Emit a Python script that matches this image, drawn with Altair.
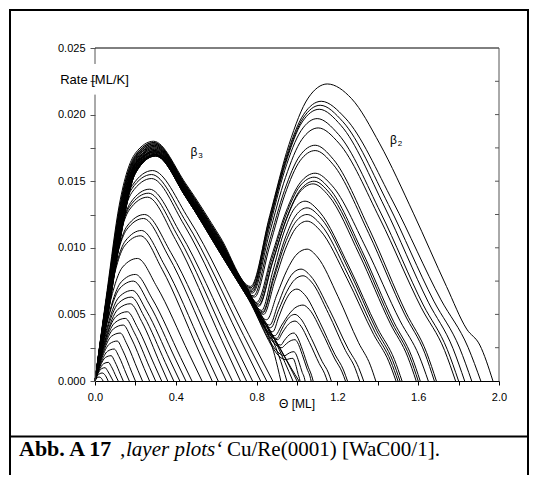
import altair as alt
import pandas as pd

# ---- tick positions / labels -------------------------------------------
x_ticks = [0.0, 0.2, 0.4, 0.6, 0.8, 1.0, 1.2, 1.4, 1.6, 1.8, 2.0]
y_ticks = [0.0, 0.0025, 0.005, 0.0075, 0.01, 0.0125, 0.015, 0.0175, 0.02, 0.0225, 0.025]
right_ticks = [0.0025, 0.005, 0.0075, 0.01, 0.0125, 0.015, 0.0175, 0.02, 0.0225]

# ---- curves: (coverage [ML], rate [ML/K]) --------------------------------
beta3_low = [
    [(0, 0), (0.008, 0.0002), (0.02, 0.0003), (0.032, 0.0002), (0.04, 0)],
    [(0, 0), (0.012, 0.0004), (0.035, 0.0006), (0.052, 0.0004), (0.065, 0)],
    [(0, 0), (0.015, 0.00056), (0.033, 0.00093), (0.05, 0.001), (0.062, 0.00077), (0.082, 0.00022), (0.09, 0)],
    [(0, 0), (0.02, 0.00078), (0.043, 0.0013), (0.066, 0.0014), (0.081, 0.00108), (0.105, 0.00031), (0.115, 0)],
    [(0, 0), (0.024, 0.00106), (0.052, 0.00177), (0.08, 0.0019), (0.098, 0.00146), (0.128, 0.00042), (0.14, 0)],
    [(0, 0), (0.029, 0.00134), (0.062, 0.00223), (0.095, 0.0024), (0.118, 0.00185), (0.155, 0.00053), (0.17, 0)],
    [(0, 0), (0.033, 0.00168), (0.072, 0.00279), (0.11, 0.003), (0.137, 0.00231), (0.182, 0.00066), (0.2, 0)],
    [(0, 0), (0.038, 0.00202), (0.081, 0.00335), (0.125, 0.0036), (0.158, 0.00277), (0.213, 0.00079), (0.235, 0)],
    [(0, 0), (0.042, 0.00235), (0.091, 0.00391), (0.14, 0.0042), (0.179, 0.00323), (0.244, 0.00092), (0.27, 0)],
    [(0, 0), (0.045, 0.00263), (0.098, 0.00437), (0.15, 0.0047), (0.195, 0.00362), (0.27, 0.00103), (0.3, 0)],
    [(0, 0), (0.048, 0.00291), (0.104, 0.00484), (0.16, 0.0052), (0.211, 0.004), (0.296, 0.00114), (0.33, 0)],
    [(0, 0), (0.053, 0.00325), (0.114, 0.00539), (0.175, 0.0058), (0.231, 0.00447), (0.323, 0.00128), (0.36, 0)],
    [(0, 0), (0.054, 0.00353), (0.117, 0.00586), (0.18, 0.0063), (0.243, 0.00485), (0.348, 0.00139), (0.39, 0)],
    [(0, 0), (0.056, 0.00381), (0.12, 0.00632), (0.185, 0.0068), (0.256, 0.00524), (0.373, 0.0015), (0.42, 0)],
]

beta3_mid = [
    [(0, 0), (0.057, 0.0042), (0.124, 0.00698), (0.19, 0.0075), (0.268, 0.00578), (0.398, 0.00165), (0.45, 0)],
    [(0, 0), (0.06, 0.00448), (0.13, 0.00744), (0.2, 0.008), (0.284, 0.00616), (0.424, 0.00176), (0.48, 0)],
    [(0, 0), (0.063, 0.00515), (0.137, 0.00856), (0.21, 0.0092), (0.306, 0.00708), (0.466, 0.00202), (0.53, 0)],
    [(0, 0), (0.068, 0.0061), (0.146, 0.01014), (0.225, 0.0109), (0.332, 0.00839), (0.509, 0.0024), (0.58, 0)],
    [(0, 0), (0.069, 0.00633), (0.15, 0.01051), (0.23, 0.0113), (0.344, 0.0087), (0.534, 0.00249), (0.61, 0)],
    [(0, 0), (0.072, 0.00683), (0.156, 0.01135), (0.24, 0.0122), (0.363, 0.00939), (0.568, 0.00268), (0.65, 0)],
    [(0, 0), (0.074, 0.007), (0.159, 0.01163), (0.245, 0.0125), (0.376, 0.00963), (0.593, 0.00275), (0.68, 0)],
    [(0, 0), (0.078, 0.00773), (0.169, 0.01283), (0.26, 0.0138), (0.398, 0.01063), (0.628, 0.00304), (0.72, 0)],
    [(0, 0), (0.08, 0.0079), (0.172, 0.01311), (0.265, 0.0141), (0.411, 0.01086), (0.653, 0.0031), (0.75, 0)],
    [(0, 0), (0.081, 0.00806), (0.176, 0.01339), (0.27, 0.0144), (0.423, 0.01109), (0.678, 0.00317), (0.78, 0)],
    [(0, 0), (0.084, 0.00851), (0.182, 0.01414), (0.28, 0.0152), (0.442, 0.0117), (0.712, 0.00334), (0.82, 0)],
    [(0, 0), (0.084, 0.00868), (0.182, 0.01442), (0.28, 0.0155), (0.451, 0.01194), (0.736, 0.00341), (0.85, 0)],
    [(0, 0), (0.086, 0.00885), (0.185, 0.01469), (0.285, 0.0158), (0.464, 0.01217), (0.761, 0.00348), (0.88, 0)],
]

beta3_sat = [
    [(0, 0), (0.06, 0.0056), (0.12, 0.0116), (0.2, 0.0163), (0.2955, 0.0172), (0.45, 0.01425), (0.62, 0.01014), (0.75, 0.00694), (0.84, 0.0041), (0.89, 0.0019), (0.92, 0)],
    [(0, 0), (0.06, 0.00537), (0.12, 0.01125), (0.2, 0.01613), (0.2965, 0.0173), (0.45, 0.01415), (0.62, 0.01002), (0.75, 0.00682), (0.85, 0.0041), (0.91, 0.0019), (0.95, 0)],
    [(0, 0), (0.06, 0.00515), (0.12, 0.01095), (0.2, 0.01598), (0.2975, 0.017), (0.45, 0.01405), (0.62, 0.0099), (0.75, 0.0067), (0.87, 0.0037), (0.94, 0.0014), (0.98, 0)],
    [(0, 0), (0.06, 0.00482), (0.12, 0.0105), (0.2, 0.01575), (0.299, 0.017), (0.45, 0.0139), (0.62, 0.00972), (0.75, 0.00652), (0.89, 0.0031), (0.96, 0.0012), (1.0, 0)],
    [(0, 0), (0.06, 0.0046), (0.12, 0.0102), (0.2, 0.0156), (0.3, 0.0169), (0.45, 0.0138), (0.62, 0.0096), (0.75, 0.0064), (0.9, 0.0029), (0.97, 0.001), (1.01, 0)],
]

beta2_high = [
    [(0, 0), (0.06, 0.0068), (0.12, 0.0132), (0.2, 0.0171), (0.29, 0.018), (0.45, 0.0148), (0.62, 0.0108), (0.77, 0.0071), (0.865, 0.01242), (0.96, 0.01774), (1.055, 0.02124), (1.15, 0.0223), (1.27, 0.0212), (1.41, 0.0178), (1.576, 0.0126), (1.74, 0.0071), (1.84, 0.0039), (1.905, 0.0027), (1.97, 0)],
    [(0, 0), (0.06, 0.00658), (0.12, 0.0129), (0.2, 0.01695), (0.291, 0.0179), (0.45, 0.0147), (0.62, 0.01068), (0.772, 0.007), (0.859, 0.0119), (0.946, 0.0168), (1.033, 0.02002), (1.12, 0.021), (1.239, 0.01974), (1.476, 0.01344), (1.713, 0.00609), (1.847, 0.00252), (1.91, 0)],
    [(0, 0), (0.06, 0.00636), (0.12, 0.0126), (0.2, 0.0168), (0.292, 0.0178), (0.45, 0.0146), (0.62, 0.01056), (0.775, 0.0069), (0.86, 0.01173), (0.945, 0.01656), (1.03, 0.01973), (1.115, 0.0207), (1.2275, 0.01946), (1.4525, 0.01325), (1.6775, 0.006), (1.805, 0.00248), (1.865, 0)],
    [(0, 0), (0.06, 0.00647), (0.12, 0.01275), (0.2, 0.01688), (0.2915, 0.0179), (0.45, 0.01465), (0.62, 0.01062), (0.775, 0.0068), (0.859, 0.01156), (0.943, 0.01632), (1.026, 0.01945), (1.11, 0.0204), (1.218, 0.01918), (1.434, 0.01306), (1.65, 0.00592), (1.772, 0.00245), (1.83, 0)],
    [(0, 0), (0.06, 0.00614), (0.12, 0.0123), (0.2, 0.01665), (0.293, 0.0177), (0.45, 0.0145), (0.62, 0.01044), (0.778, 0.0067), (0.859, 0.01125), (0.939, 0.0158), (1.02, 0.01879), (1.1, 0.0197), (1.205, 0.01852), (1.415, 0.01261), (1.625, 0.00571), (1.744, 0.00236), (1.8, 0)],
    [(0, 0), (0.06, 0.00625), (0.12, 0.01245), (0.2, 0.01673), (0.2925, 0.0178), (0.45, 0.01455), (0.62, 0.0105), (0.78, 0.0066), (0.861, 0.01094), (0.943, 0.01528), (1.024, 0.01813), (1.105, 0.019), (1.207, 0.01786), (1.411, 0.01216), (1.615, 0.00551), (1.731, 0.00228), (1.785, 0)],
    [(0, 0), (0.06, 0.00603), (0.12, 0.01215), (0.2, 0.01658), (0.2935, 0.0176), (0.45, 0.01445), (0.62, 0.01038), (0.785, 0.0064), (0.861, 0.01036), (0.938, 0.01431), (1.014, 0.01691), (1.09, 0.0177), (1.18, 0.01664), (1.36, 0.01133), (1.54, 0.00513), (1.642, 0.00212), (1.69, 0)],
    [(0, 0), (0.06, 0.00592), (0.12, 0.012), (0.2, 0.0165), (0.294, 0.0177), (0.45, 0.0144), (0.62, 0.01032), (0.79, 0.0063), (0.865, 0.01015), (0.94, 0.014), (1.015, 0.01653), (1.09, 0.0173), (1.1785, 0.01626), (1.3555, 0.01107), (1.5325, 0.00502), (1.633, 0.00208), (1.68, 0)],
]

beta2_mid = [
    [(0, 0), (0.06, 0.00581), (0.12, 0.01185), (0.2, 0.01643), (0.2945, 0.0175), (0.45, 0.01435), (0.62, 0.01026), (0.75, 0.00706), (0.8, 0.0059), (0.8725, 0.0093), (0.945, 0.01269), (1.0175, 0.01492), (1.09, 0.0156), (1.174, 0.01466), (1.342, 0.00998), (1.51, 0.00452), (1.605, 0.00187), (1.65, 0)],
    [(0, 0), (0.06, 0.0057), (0.12, 0.0117), (0.2, 0.01635), (0.295, 0.0176), (0.45, 0.0143), (0.62, 0.0102), (0.75, 0.007), (0.805, 0.0058), (0.875, 0.00913), (0.945, 0.01245), (1.015, 0.01464), (1.085, 0.0153), (1.164, 0.01438), (1.321, 0.00979), (1.479, 0.00444), (1.568, 0.00184), (1.61, 0)],
    [(0, 0), (0.06, 0.0058), (0.12, 0.0118), (0.2, 0.0163), (0.295, 0.0174), (0.45, 0.0143), (0.62, 0.0102), (0.75, 0.007), (0.81, 0.0057), (0.879, 0.00896), (0.948, 0.01221), (1.016, 0.01435), (1.085, 0.015), (1.162, 0.0141), (1.317, 0.0096), (1.471, 0.00435), (1.559, 0.0018), (1.6, 0)],
    [(0, 0), (0.06, 0.00559), (0.12, 0.01155), (0.2, 0.01628), (0.2955, 0.0175), (0.45, 0.01425), (0.62, 0.01014), (0.75, 0.00694), (0.81, 0.0056), (0.8775, 0.00882), (0.945, 0.01204), (1.0125, 0.01416), (1.08, 0.0148), (1.1565, 0.01391), (1.3095, 0.00947), (1.4625, 0.00429), (1.549, 0.00178), (1.59, 0)],
    [(0, 0), (0.06, 0.00548), (0.12, 0.0114), (0.2, 0.0162), (0.296, 0.0173), (0.45, 0.0142), (0.62, 0.01008), (0.75, 0.00688), (0.825, 0.0053), (0.879, 0.00817), (0.9325, 0.01104), (0.986, 0.01293), (1.04, 0.0135), (1.112, 0.01269), (1.256, 0.00864), (1.4, 0.00392), (1.482, 0.00162), (1.52, 0)],
    [(0, 0), (0.06, 0.0055), (0.12, 0.0115), (0.2, 0.0163), (0.296, 0.0174), (0.45, 0.0142), (0.62, 0.0101), (0.75, 0.0069), (0.83, 0.0052), (0.885, 0.00793), (0.94, 0.01066), (0.995, 0.01245), (1.05, 0.013), (1.119, 0.01222), (1.257, 0.00832), (1.395, 0.00377), (1.473, 0.00156), (1.51, 0)],
    [(0, 0), (0.06, 0.00537), (0.12, 0.01125), (0.2, 0.01613), (0.2965, 0.0172), (0.45, 0.01415), (0.62, 0.01002), (0.75, 0.00682), (0.83, 0.0051), (0.885, 0.00769), (0.94, 0.01028), (0.995, 0.01198), (1.05, 0.0125), (1.1175, 0.01175), (1.2525, 0.008), (1.3875, 0.00363), (1.464, 0.0015), (1.5, 0)],
    [(0, 0), (0.06, 0.00526), (0.12, 0.0111), (0.2, 0.01605), (0.297, 0.0173), (0.45, 0.0141), (0.62, 0.00996), (0.75, 0.00676), (0.835, 0.005), (0.889, 0.00745), (0.9425, 0.0099), (0.996, 0.01151), (1.05, 0.012), (1.116, 0.01128), (1.248, 0.00768), (1.38, 0.00348), (1.455, 0.00144), (1.49, 0)],
]

beta2_low = [
    [(0, 0), (0.06, 0.0052), (0.12, 0.011), (0.2, 0.016), (0.297, 0.0172), (0.45, 0.0141), (0.62, 0.0099), (0.75, 0.0067), (0.85, 0.0046), (0.9, 0.00646), (0.95, 0.00831), (1.0, 0.00953), (1.05, 0.0099), (1.101, 0.00931), (1.203, 0.00634), (1.305, 0.00287), (1.363, 0.00119), (1.39, 0)],
    [(0, 0), (0.06, 0.00515), (0.12, 0.01095), (0.2, 0.01598), (0.2975, 0.0171), (0.45, 0.01405), (0.62, 0.0099), (0.75, 0.0067), (0.865, 0.0042), (0.904, 0.00567), (0.9425, 0.00714), (0.981, 0.00811), (1.02, 0.0084), (1.0665, 0.0079), (1.1595, 0.00538), (1.2525, 0.00244), (1.305, 0.00101), (1.33, 0)],
    [(0, 0), (0.06, 0.00504), (0.12, 0.0108), (0.2, 0.0159), (0.298, 0.0172), (0.45, 0.014), (0.62, 0.00984), (0.75, 0.00664), (0.87, 0.004), (0.91, 0.00537), (0.95, 0.00673), (0.99, 0.00763), (1.03, 0.0079), (1.072, 0.00743), (1.156, 0.00506), (1.24, 0.00229), (1.288, 0.00095), (1.31, 0)],
    [(0, 0), (0.06, 0.005), (0.12, 0.0107), (0.2, 0.0158), (0.298, 0.017), (0.45, 0.014), (0.62, 0.0098), (0.75, 0.0066), (0.88, 0.0037), (0.91, 0.00482), (0.94, 0.00594), (0.97, 0.00668), (1.0, 0.0069), (1.0375, 0.00649), (1.1125, 0.00442), (1.1875, 0.002), (1.23, 0.00083), (1.25, 0)],
    [(0, 0), (0.06, 0.00493), (0.12, 0.01065), (0.2, 0.01583), (0.2985, 0.0171), (0.45, 0.01395), (0.62, 0.00978), (0.75, 0.00658), (0.89, 0.0034), (0.925, 0.00421), (0.96, 0.00501), (0.995, 0.00554), (1.03, 0.0057), (1.0615, 0.00536), (1.1245, 0.00365), (1.1875, 0.00165), (1.223, 0.00068), (1.24, 0)],
    [(0, 0), (0.06, 0.0049), (0.12, 0.0106), (0.2, 0.0158), (0.2985, 0.017), (0.45, 0.0139), (0.62, 0.0097), (0.75, 0.0065), (0.9, 0.0032), (0.9225, 0.00383), (0.945, 0.00446), (0.9675, 0.00487), (0.99, 0.005), (1.017, 0.0047), (1.071, 0.0032), (1.125, 0.00145), (1.156, 0.0006), (1.17, 0)],
    [(0, 0), (0.06, 0.00482), (0.12, 0.0105), (0.2, 0.01575), (0.299, 0.0169), (0.45, 0.0139), (0.62, 0.00972), (0.75, 0.00652), (0.905, 0.0031), (0.926, 0.00359), (0.9475, 0.00408), (0.969, 0.0044), (0.99, 0.0045), (1.014, 0.00423), (1.062, 0.00288), (1.11, 0.00131), (1.137, 0.00054), (1.15, 0)],
    [(0, 0), (0.06, 0.0048), (0.12, 0.0104), (0.2, 0.0157), (0.299, 0.017), (0.45, 0.0138), (0.62, 0.0097), (0.75, 0.0065), (0.92, 0.0027), (0.936, 0.00302), (0.9525, 0.00333), (0.969, 0.00354), (0.985, 0.0036), (0.999, 0.00338), (1.028, 0.0023), (1.056, 0.00104), (1.072, 0.00043), (1.08, 0)],
    [(0, 0), (0.06, 0.00471), (0.12, 0.01035), (0.2, 0.01568), (0.2995, 0.0169), (0.45, 0.01385), (0.62, 0.00966), (0.75, 0.00646), (0.925, 0.0025), (0.941, 0.00271), (0.9575, 0.00292), (0.974, 0.00306), (0.99, 0.0031), (1.002, 0.00291), (1.026, 0.00198), (1.05, 0.0009), (1.064, 0.00037), (1.07, 0)],
    [(0, 0), (0.06, 0.0047), (0.12, 0.0103), (0.2, 0.0156), (0.2995, 0.017), (0.45, 0.0138), (0.62, 0.0096), (0.75, 0.0064), (0.94, 0.0019), (0.951, 0.002), (0.9625, 0.00211), (0.974, 0.00218), (0.985, 0.0022), (0.993, 0.00207), (1.01, 0.00141), (1.026, 0.00064), (1.036, 0.00026), (1.04, 0)],
    [(0, 0), (0.06, 0.0046), (0.12, 0.0102), (0.2, 0.0156), (0.3, 0.0169), (0.45, 0.0138), (0.62, 0.0096), (0.75, 0.0064), (0.945, 0.0016), (0.9625, 0.00167), (0.98, 0.0017), (0.985, 0.0016), (0.996, 0.00109), (1.006, 0.00049), (1.012, 0.0002), (1.015, 0)],
]

# ---- text ---------------------------------------------------------------
peak_labels = ["β", "β"]
peak_subs = ["3", "2"]
peak_x = [0.49, 1.477]
peak_y = [0.0172, 0.0181]
y_title = "Rate [ML/K]"
x_title = "Θ [ML]"
caption_bold = "Abb. A 17"
caption_italic = "\u201alayer plots\u2018"
caption_plain = "Cu/Re(0001) [WaC00/1]."

# ---- build table --------------------------------------------------------
rows = []
for gname, group in [("l", beta3_low), ("m", beta3_mid), ("s", beta3_sat),
                     ("h", beta2_high), ("d", beta2_mid), ("w", beta2_low)]:
    for k, curve in enumerate(group):
        for i, (x, y) in enumerate(curve):
            rows.append({"curve": f"{gname}{k}", "i": i, "x": x, "y": y})
df = pd.DataFrame(rows)

FONT = "Liberation Sans"
xscale = alt.Scale(domain=[0, 2], nice=False, zero=False)
yscale = alt.Scale(domain=[0, 0.025], nice=False, zero=False)
xaxis = alt.Axis(
    values=x_ticks, title=None, grid=False, domainColor="black", domainWidth=1,
    tickColor="black", tickSize=4, labelPadding=6, labelFont=FONT, labelFontSize=11,
    labelColor="black", labelFlush=False, labelOverlap=False,
    labelExpr="round(datum.value*10) % 4 == 0 ? format(datum.value, '.1f') : ''")
yaxis = alt.Axis(
    values=y_ticks, title=None, grid=False, domain=False,
    tickColor="#555", tickSize=5, labelPadding=5, labelFont=FONT, labelFontSize=11,
    labelColor="black", labelFlush=False, labelOverlap=False,
    labelExpr="round(datum.value*400) % 2 == 0 ? format(datum.value, '.3f') : ''")


def X(f):
    return alt.X(f, scale=xscale, axis=xaxis)


def Y(f):
    return alt.Y(f, scale=yscale, axis=yaxis)


curves = alt.Chart(df).mark_line(color="black", strokeWidth=1, interpolate="monotone").encode(
    x=X("x:Q"), y=Y("y:Q"), detail="curve:N", order="i:Q")

frame_df = pd.DataFrame({
    "x": [0, 0, 0, 2], "x2": [2, 0, 0, 2],
    "y": [0.025, 0, 0.0238, 0], "y2": [0.025, 0.0215, 0.025, 0.025],
    "c": ["black", "#555", "#555", "#555"],
})
frame = alt.Chart(frame_df).mark_rule(strokeWidth=1).encode(
    x=X("x:Q"), x2="x2:Q", y=Y("y:Q"), y2="y2:Q",
    color=alt.Color("c:N", scale=None),
)

rticks = alt.Chart(pd.DataFrame({"y": right_ticks})).mark_rule(color="#555", strokeWidth=1).encode(
    y=Y("y:Q"), x=alt.value(400), x2=alt.value(404))

lab_df = pd.DataFrame({"x": peak_x, "y": peak_y, "t": peak_labels, "s": peak_subs})
beta = alt.Chart(lab_df).mark_text(font=FONT, fontSize=12, align="center", baseline="middle", color="black").encode(
    x=X("x:Q"), y=Y("y:Q"), text="t:N")
sub = alt.Chart(lab_df).mark_text(font=FONT, fontSize=8, align="center", baseline="middle", dx=6.5, dy=4, color="black").encode(
    x=X("x:Q"), y=Y("y:Q"), text="s:N")

one = pd.DataFrame({"a": [0]})
ytitle = alt.Chart(one).mark_text(font=FONT, fontSize=13, align="center", baseline="middle", color="black").encode(
    x=alt.value(-0.5), y=alt.value(31.5), text=alt.value(y_title))
xtitle = alt.Chart(one).mark_text(font=FONT, fontSize=12, align="center", baseline="middle", color="black").encode(
    x=alt.value(202), y=alt.value(356), text=alt.value(x_title))

border = alt.Chart(one).mark_rect(fillOpacity=0, stroke="black", strokeWidth=2).encode(
    x=alt.value(-85), x2=alt.value(433), y=alt.value(-38), y2=alt.value(470))
cap_line = alt.Chart(one).mark_rule(color="black", strokeWidth=2).encode(
    x=alt.value(-85), x2=alt.value(433), y=alt.value(388.5))
cap1 = alt.Chart(one).mark_text(font="Liberation Serif", fontSize=22, fontWeight="bold", align="left", baseline="alphabetic", color="black").encode(
    x=alt.value(-76), y=alt.value(408), text=alt.value(caption_bold))
cap2 = alt.Chart(one).mark_text(font="Liberation Serif", fontSize=21, fontStyle="italic", align="left", baseline="alphabetic", color="black").encode(
    x=alt.value(24), y=alt.value(408), text=alt.value(caption_italic))
cap3 = alt.Chart(one).mark_text(font="Liberation Serif", fontSize=21, align="left", baseline="alphabetic", color="black").encode(
    x=alt.value(132), y=alt.value(408), text=alt.value(caption_plain))

chart = alt.layer(
    curves, frame, rticks, beta, sub, ytitle, xtitle, border, cap_line, cap1, cap2, cap3
).properties(
    width=404, height=333,
    padding={"left": 87, "top": 40, "right": 30, "bottom": 94},
    autosize=alt.AutoSizeParams(type="none"),
    background="white",
).configure_view(strokeWidth=0)

chart.save("out.html", embed_options={"renderer": "svg", "actions": False})
